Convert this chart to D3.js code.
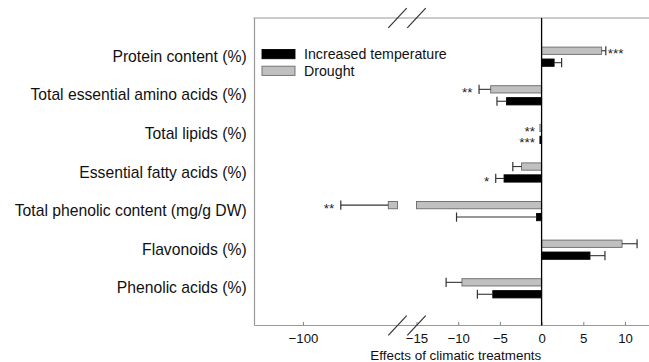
<!DOCTYPE html>
<html>
<head>
<meta charset="utf-8">
<script src="https://cdn.jsdelivr.net/npm/d3@7"></script>
<style>
  html, body { margin: 0; padding: 0; background: #fff; }
  svg { display: block; font-family: "Liberation Sans", Arial, sans-serif; }
</style>
</head>
<body>
<svg id="chart" width="649" height="362"></svg>
<script>
// Effects of climatic treatments on quality traits
const categories = [
  "Protein content (%)",
  "Total essential amino acids (%)",
  "Total lipids (%)",
  "Essential fatty acids (%)",
  "Total phenolic content (mg/g DW)",
  "Flavonoids (%)",
  "Phenolic acids (%)"
];
const seriesNames = ["Drought", "Increased temperature"];
const droughtMean = [7.2, -6.1, -0.2, -2.4, -64.8, 9.65, -9.55];
const droughtSE   = [0.5, 1.4, 0, 1.05, 19.6, 1.8, 1.9];
const droughtSig  = ["***", "**", "**", "", "**", "", ""];
const tempMean    = [1.5, -4.2, -0.2, -4.5, -0.6, 5.8, -5.85];
const tempSE      = [0.9, 1.15, 0, 1.0, 9.6, 1.8, 1.85];
const tempSig     = ["", "", "***", "*", "", "", ""];
const leftTicks   = [-100];
const rightTicks  = [-15, -10, -5, 0, 5, 10];
const axisTitle   = "Effects of climatic treatments";

const svg = d3.select("#chart");

const frame = { left: 254.5, right: 649, top: 18, bottom: 325.5 };

// Broken x axis: a compressed far-negative segment and a detailed segment
const xLeft  = d3.scaleLinear().domain([-120, -61]).range([frame.left, 397.5]);
const xRight = d3.scaleLinear().domain([-15, 13]).range([416.5, 650]);
const breakLeft = xLeft.range()[1], breakRight = xRight.range()[0];
const x = v => v >= -15 ? xRight(v) : xLeft(v);

const y = d3.scaleBand().domain(categories).range([37.4, 307.6]).padding(0);
const sub = d3.scaleBand().domain(seriesNames).range([-9.6, 9.6]).paddingInner(0.39);

const rows = categories.map((c, i) => ({
  cat: c,
  bars: [
    { s: "Drought", v: droughtMean[i], se: droughtSE[i], sig: droughtSig[i] },
    { s: "Increased temperature", v: tempMean[i], se: tempSE[i], sig: tempSig[i] }
  ]
}));

const style = {
  "Drought": { fill: "#c0c0c0", stroke: "#6a6a6a" },
  "Increased temperature": { fill: "#000", stroke: "#000" }
};

// Frame lines
const frameG = svg.append("g").attr("stroke", "#9a9a9a").attr("stroke-width", 1.2);
frameG.append("line").attr("x1", frame.left - 1).attr("x2", frame.right).attr("y1", frame.top).attr("y2", frame.top);
frameG.append("line").attr("x1", frame.left).attr("x2", frame.right).attr("y1", frame.bottom).attr("y2", frame.bottom);
frameG.append("line").attr("x1", frame.left).attr("x2", frame.left).attr("y1", frame.top).attr("y2", frame.bottom);

// X axes (ticks pointing inward)
function styleAxis(g) {
  g.select(".domain").remove();
  g.selectAll(".tick line").attr("stroke", "#8a8a8a").attr("stroke-width", 1.1);
  g.selectAll(".tick text").attr("fill", "#111").attr("font-size", 13.2)
    .attr("font-family", "'Liberation Sans', Arial, sans-serif");
}
svg.append("g").attr("transform", `translate(0,${frame.bottom})`)
  .call(d3.axisBottom(xLeft).tickValues(leftTicks).tickSize(-3.5).tickPadding(8).tickFormat(d3.format("d")))
  .call(styleAxis);
svg.append("g").attr("transform", `translate(0,${frame.bottom})`)
  .call(d3.axisBottom(xRight).tickValues(rightTicks).tickSize(-3.5).tickPadding(8).tickFormat(d3.format("d")))
  .call(styleAxis);

svg.append("text")
  .attr("x", 455.8).attr("y", 360)
  .attr("text-anchor", "middle").attr("font-size", 13.4).attr("fill", "#111")
  .text(axisTitle);

// Category labels
svg.append("g").attr("transform", `translate(${frame.left},0)`)
  .call(d3.axisLeft(y).tickSize(0).tickPadding(7.8))
  .call(g => {
    g.select(".domain").remove();
    g.selectAll(".tick text").attr("fill", "#111").attr("font-size", 15.7)
      .attr("font-family", "'Liberation Sans', Arial, sans-serif");
  });

// Bars
const rowG = svg.append("g").selectAll("g").data(rows).join("g")
  .attr("transform", d => `translate(0,${y(d.cat) + y.bandwidth() / 2})`);

const barG = rowG.selectAll("g.bar").data(d => d.bars).join("g").attr("class", "bar");

barG.each(function (d) {
  const g = d3.select(this);
  const y0 = sub(d.s), h = sub.bandwidth();
  const st = style[d.s];
  const segs = [];
  if (d.v < -15) {
    segs.push([xRight(-15), xRight(0)]);
    segs.push([xLeft(d.v), breakLeft]);
  } else {
    segs.push([Math.min(x(0), x(d.v)), Math.max(x(0), x(d.v))]);
  }
  segs.forEach(([a, b]) => {
    g.append("rect")
      .attr("x", a).attr("y", y0)
      .attr("width", Math.max(b - a, 0.1)).attr("height", h)
      .attr("fill", st.fill).attr("stroke", st.stroke).attr("stroke-width", 0.9);
  });

  // Error bar away from zero
  const cy = y0 + h / 2;
  let endX = x(d.v);
  if (d.se > 0) {
    const ev = d.v >= 0 ? d.v + d.se : d.v - d.se;
    endX = x(ev);
    g.append("line").attr("x1", x(d.v)).attr("x2", endX).attr("y1", cy).attr("y2", cy)
      .attr("stroke", "#333").attr("stroke-width", 1.1);
    g.append("line").attr("x1", endX).attr("x2", endX).attr("y1", cy - 4.6).attr("y2", cy + 4.6)
      .attr("stroke", "#333").attr("stroke-width", 1.2);
  } else {
    endX = x(0);
  }

  // Significance stars
  if (d.sig) {
    const pos = d.v >= 0;
    g.append("text")
      .attr("x", pos ? endX + 2 : endX - 6.5)
      .attr("y", cy + 7.6)
      .attr("text-anchor", pos ? "start" : "end")
      .attr("font-size", 13.5).attr("fill", "#222")
      .text(d.sig);
  }
});

// Zero line
svg.append("line")
  .attr("x1", x(0)).attr("x2", x(0)).attr("y1", frame.top).attr("y2", frame.bottom)
  .attr("stroke", "#000").attr("stroke-width", 1.3);

// Axis break marks
const breakG = svg.append("g").attr("stroke", "#333").attr("stroke-width", 1.2);
[frame.top, frame.bottom].forEach(yy => {
  [breakLeft, breakRight].forEach(xx => {
    breakG.append("line")
      .attr("x1", xx - 9.2).attr("y1", yy + 9.8)
      .attr("x2", xx + 9.2).attr("y2", yy - 9.8);
  });
});

// Legend
const legend = svg.append("g");
const legendItems = [
  { name: "Increased temperature", y: 49.5 },
  { name: "Drought", y: 66.2 }
];
legendItems.forEach(it => {
  const st = style[it.name];
  legend.append("rect").attr("x", 262).attr("y", it.y).attr("width", 33).attr("height", 9.2)
    .attr("fill", st.fill).attr("stroke", st.stroke).attr("stroke-width", 0.9);
  legend.append("text").attr("x", 304).attr("y", it.y + 9.6)
    .attr("font-size", 14.2).attr("fill", "#111").text(it.name);
});
</script>
</body>
</html>
